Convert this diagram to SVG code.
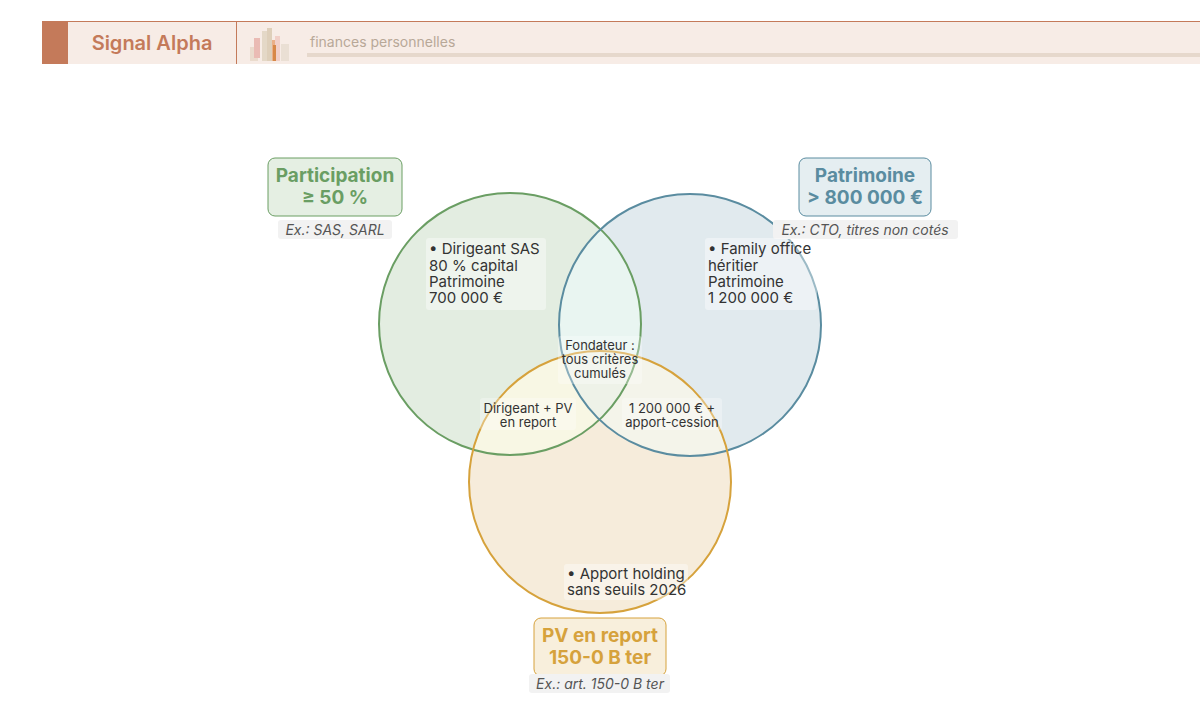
<svg xmlns="http://www.w3.org/2000/svg" width="1200" height="721" viewBox="0 0 1200 721">
<style>
.t{font-family:Inter,"Liberation Sans",sans-serif}
.lbl{font-size:15px;fill:#333}
.sm{font-size:13px;fill:#333;text-anchor:middle}
.ex{font-size:14px;fill:#555;font-style:italic;text-anchor:middle}
.ttl{font-size:19px;font-weight:bold;text-anchor:middle}
</style>
<defs>
<clipPath id="cg"><circle cx="510" cy="324" r="131"/></clipPath>
<clipPath id="cb"><circle cx="690" cy="325" r="131"/></clipPath>
</defs>
<rect width="1200" height="721" fill="#fff"/>
<g id="header">
<rect x="42" y="21" width="1158" height="43" fill="#f7ece6"/>
<line x1="42" y1="21.5" x2="1200" y2="21.5" stroke="#c47a5a" stroke-width="1"/>
<rect x="42" y="21" width="26" height="43" fill="#c47a5a"/>
<line x1="236.5" y1="21" x2="236.5" y2="64" stroke="#c47a5a"/>
<text x="152" y="50" class="t" font-size="20" font-weight="600" fill="#c47a5a" text-anchor="middle">Signal Alpha</text>
<g opacity="0.8">
<rect x="250" y="47" width="8" height="14" fill="#e8d8c8"/>
<rect x="254" y="38" width="6" height="20" fill="#e8b0a8"/>
<rect x="262" y="31" width="8" height="30" fill="#e0d4c0"/>
<rect x="267" y="28" width="5" height="33" fill="#d8c8b0"/>
<rect x="272" y="40" width="6" height="21" fill="#e8a070"/>
<rect x="275" y="36" width="5" height="25" fill="#f0c8c0"/>
<rect x="281" y="44" width="8" height="17" fill="#e8ddd0"/>
<rect x="273" y="45" width="3" height="16" fill="#d07020"/>
</g>
<text x="310" y="47" class="t" font-size="14" fill="#b8a898">finances personnelles</text>
<rect x="307" y="53" width="893" height="4" fill="#e6d8cc"/>
</g>
<g id="circles">
<circle cx="510" cy="324" r="131" fill="#e3ede1"/>
<circle cx="690" cy="325" r="131" fill="#e1eaee"/>
<circle cx="600" cy="482" r="131" fill="#f6ecdb"/>
<g clip-path="url(#cg)"><circle cx="690" cy="325" r="131" fill="#e9f5f1"/><circle cx="600" cy="482" r="131" fill="#f8f7e4"/></g>
<g clip-path="url(#cb)"><circle cx="600" cy="482" r="131" fill="#f4f4ea"/></g>
<g clip-path="url(#cg)"><g clip-path="url(#cb)"><circle cx="600" cy="482" r="131" fill="#eef2e8"/></g></g>
<circle cx="510" cy="324" r="131" fill="none" stroke="#6a9e63" stroke-width="2"/>
<circle cx="690" cy="325" r="131" fill="none" stroke="#5a8ca0" stroke-width="2"/>
<circle cx="600" cy="482" r="131" fill="none" stroke="#d6a23c" stroke-width="2"/>
</g>
<g id="node-participation">
<rect x="268" y="158" width="134" height="58" rx="7" fill="#e5efe3" stroke="#6a9e63"/>
<text x="335" y="182" class="t ttl" fill="#6a9e63">Participation</text>
<text x="335" y="204" class="t ttl" fill="#6a9e63">≥ 50 %</text>
<rect x="278" y="220" width="114" height="19" rx="3" fill="#f2f2f2"/>
<text x="335" y="235" class="t ex">Ex.: SAS, SARL</text>
</g>
<g id="node-patrimoine">
<rect x="799" y="158" width="132" height="58" rx="7" fill="#e5eef1" stroke="#5a8ca0"/>
<text x="865" y="182" class="t ttl" fill="#5a8ca0">Patrimoine</text>
<text x="865" y="204" class="t ttl" fill="#5a8ca0">&gt; 800 000 €</text>
<rect x="773" y="220" width="185" height="19" rx="3" fill="#f2f2f2"/>
<text x="865" y="235" class="t ex">Ex.: CTO, titres non cotés</text>
</g>
<g id="node-pv">
<rect x="534" y="618" width="132" height="58" rx="7" fill="#f8efdc" stroke="#d6a23c"/>
<text x="600" y="642" class="t ttl" fill="#d6a23c">PV en report</text>
<text x="600" y="664" class="t ttl" fill="#d6a23c">150-0 B ter</text>
<rect x="529" y="674" width="141" height="19" rx="3" fill="#f2f2f2"/>
<text x="600" y="689" class="t ex">Ex.: art. 150-0 B ter</text>
</g>
<g id="labels">
<rect x="426" y="238" width="120" height="72" rx="3" fill="#fff" fill-opacity="0.4"/>
<text class="t lbl"><tspan x="429" y="254">• Dirigeant SAS</tspan><tspan x="429" y="271">80 % capital</tspan><tspan x="429" y="287">Patrimoine</tspan><tspan x="429" y="303">700 000 €</tspan></text>
<rect x="705" y="238" width="112" height="72" rx="3" fill="#fff" fill-opacity="0.4"/>
<text class="t lbl"><tspan x="708" y="254">• Family office</tspan><tspan x="708" y="271">héritier</tspan><tspan x="708" y="287">Patrimoine</tspan><tspan x="708" y="303">1 200 000 €</tspan></text>
<rect x="564" y="564" width="124" height="36" rx="3" fill="#fff" fill-opacity="0.4"/>
<text class="t lbl"><tspan x="567" y="579">• Apport holding</tspan><tspan x="567" y="595">sans seuils 2026</tspan></text>
<rect x="558" y="336" width="84" height="48" rx="3" fill="#fff" fill-opacity="0.3"/>
<text class="t sm"><tspan x="600" y="350">Fondateur :</tspan><tspan x="600" y="364">tous critères</tspan><tspan x="600" y="378">cumulés</tspan></text>
<rect x="480" y="398" width="96" height="32" rx="3" fill="#fff" fill-opacity="0.3"/>
<text class="t sm"><tspan x="528" y="413">Dirigeant + PV</tspan><tspan x="528" y="427">en report</tspan></text>
<rect x="622" y="398" width="100" height="32" rx="3" fill="#fff" fill-opacity="0.3"/>
<text class="t sm"><tspan x="672" y="413">1 200 000 € +</tspan><tspan x="672" y="427">apport-cession</tspan></text>
</g>
</svg>
